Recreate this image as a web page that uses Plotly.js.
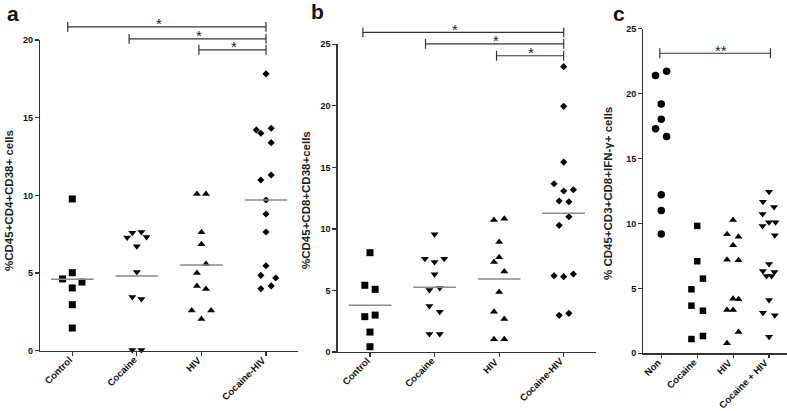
<!DOCTYPE html>
<html><head><meta charset="utf-8">
<script src="https://cdn.plot.ly/plotly-3.0.1.min.js"></script>
<style>html,body{margin:0;padding:0;background:#fff}#chart{width:787px;height:411px}</style>
</head><body><div id="chart"></div>
<script>
// ---------- categories ----------
const catsAB = ['Control', 'Cocaine', 'HIV', 'Cocaine-HIV'];
const catsC = ['Non', 'Cocaine', 'HIV', 'Cocaine + HIV'];

// ---------- panel a : %CD45+CD4+CD38+ cells ----------
const aControl = [9.77, 4.62, 5.02, 4.42, 4.04, 2.96, 1.46];
const aControlDx = [0, -0.15, 0, 0.15, 0, 0, 0];
const aCocaine = [7.28, 7.6, 7.64, 7.32, 6.72, 5.07, 3.46, 3.33, 0.05, 0.05];
const aCocaineDx = [-0.15, -0.07, 0.07, 0.15, 0, 0, -0.07, 0.07, -0.07, 0.07];
const aHIV = [10.09, 10.09, 7.62, 6.85, 5.58, 5.0, 4.17, 3.97, 2.58, 2.58, 2.04];
const aHIVDx = [-0.07, 0.07, 0, 0, 0.07, -0.07, -0.07, 0.07, -0.15, 0.15, 0];
const aCocHIV = [17.82, 14.21, 14.0, 14.32, 13.39, 11.31, 10.99, 9.7, 8.8, 7.64, 5.47, 4.85, 4.68, 4.17, 3.99];
const aCocHIVDx = [0, -0.15, -0.08, 0.08, 0.08, 0.08, -0.08, 0, 0, 0, 0, -0.08, 0.15, 0.08, -0.08];
const aMeans = [4.6, 4.81, 5.52, 9.7];
const aBrFrom = [-0.07, 0.88, 1.96];
const aBrTo = [3, 3, 3];
const aBrY = [20.84, 20.07, 19.36];
const aBrLabelX = [1.34, 1.96, 2.51];
const aBrLabel = ['*', '*', '*'];

// ---------- panel b : %CD45+CD8+CD38+cells ----------
const bControl = [8.07, 5.42, 5.09, 2.87, 3.0, 1.62, 0.43];
const bControlDx = [0, -0.08, 0.08, -0.08, 0.08, 0, 0];
const bCocaine = [9.56, 7.58, 7.31, 7.58, 6.31, 5.04, 5.2, 3.74, 3.28, 1.46, 1.46];
const bCocaineDx = [0, -0.15, 0, 0.15, 0, -0.08, 0.08, -0.08, 0.08, -0.08, 0.08];
const bHIV = [10.72, 10.83, 8.94, 7.69, 7.31, 6.55, 4.87, 3.28, 2.68, 1.03, 1.03];
const bHIVDx = [-0.08, 0.08, 0, 0, -0.08, 0.08, 0, -0.08, 0.08, -0.08, 0.08];
const bCocHIV = [23.18, 19.96, 15.43, 13.67, 13.08, 13.18, 12.27, 12.21, 10.99, 10.29, 6.2, 6.12, 6.34, 2.98, 3.14];
const bCocHIVDx = [0, 0, 0, -0.15, 0, 0.15, -0.07, 0.08, 0.08, -0.07, -0.15, 0, 0.15, -0.07, 0.08];
const bMeans = [3.79, 5.26, 5.93, 11.27];
const bBrFrom = [-0.11, 0.86, 1.96];
const bBrTo = [3, 3, 3];
const bBrY = [25.97, 25.04, 24.07];
const bBrLabelX = [1.32, 1.95, 2.5];
const bBrLabel = ['*', '*', '*'];

// ---------- panel c : % CD45+CD3+CD8+IFN-γ+ cells ----------
const cNon = [21.39, 21.72, 19.2, 18.03, 17.3, 16.69, 12.22, 10.99, 9.19];
const cNonDx = [-0.16, 0.15, 0, 0, -0.16, 0.15, 0, 0, 0];
const cCocaine = [9.81, 7.09, 5.75, 4.93, 3.67, 3.28, 1.1, 1.33];
const cCocaineDx = [0, 0, 0.16, -0.16, -0.16, 0.16, -0.16, 0.16];
const cHIV = [10.27, 9.17, 8.98, 8.32, 7.21, 7.16, 4.21, 4.16, 3.34, 3.34, 1.64, 0.77];
const cHIVDx = [0, -0.17, 0.15, 0, -0.17, 0.15, 0, 0.15, -0.17, 0, 0.15, -0.17];
const cCocHIV = [12.45, 11.68, 11.27, 10.73, 10.09, 10.09, 9.81, 9.09, 6.88, 6.34, 6.26, 5.96, 5.96, 4.11, 3.13, 2.93, 1.28];
const cCocHIVDx = [0, -0.17, 0.14, -0.18, 0, 0.18, -0.18, 0.16, 0, -0.17, 0.15, -0.07, 0.07, 0, -0.17, 0.16, 0];
const cBrFrom = [-0.04];
const cBrTo = [3.04];
const cBrY = [23.11];
const cBrLabelX = [1.66];
const cBrLabel = ['**'];

// ---------- ticks / titles ----------
const yTicksA = [0, 5, 10, 15, 20];
const yTicksBC = [0, 5, 10, 15, 20, 25];
const yTitles = ['%CD45+CD4+CD38+ cells', '%CD45+CD8+CD38+cells', '% CD45+CD3+CD8+IFN-γ+ cells'];
const panelLetters = ['a', 'b', 'c'];

// ---------- build ----------
const FONT = 'Liberation Sans, Arial, sans-serif';
const W = 787, H = 411;
const panels = [
  {x: 'x', y: 'y', bx: 'x4', by: 'y4', xdom: [40, 298.3], ydom: [350.7, 40], ymax: 20, ticks: yTicksA, cats: catsAB,
   groups: [[aControl, aControlDx, 'square', 7], [aCocaine, aCocaineDx, 'triangle-down', 7], [aHIV, aHIVDx, 'triangle-up', 7], [aCocHIV, aCocHIVDx, 'diamond', 5.5]],
   means: aMeans, br: [aBrFrom, aBrTo, aBrY, aBrLabelX, aBrLabel]},
  {x: 'x2', y: 'y2', bx: 'x5', by: 'y5', xdom: [337.7, 596], ydom: [352, 44.3], ymax: 25, ticks: yTicksBC, cats: catsAB,
   groups: [[bControl, bControlDx, 'square', 7], [bCocaine, bCocaineDx, 'triangle-down', 7], [bHIV, bHIVDx, 'triangle-up', 7], [bCocHIV, bCocHIVDx, 'diamond', 5.5]],
   means: bMeans, br: [bBrFrom, bBrTo, bBrY, bBrLabelX, bBrLabel]},
  {x: 'x3', y: 'y3', bx: 'x6', by: 'y6', xdom: [643.3, 787], ydom: [353.3, 28.7], ymax: 25, ticks: yTicksBC, cats: catsC,
   groups: [[cNon, cNonDx, 'circle', 7.5], [cCocaine, cCocaineDx, 'square', 6.5], [cHIV, cHIVDx, 'triangle-up', 7], [cCocHIV, cCocHIVDx, 'triangle-down', 7]],
   means: null, br: [cBrFrom, cBrTo, cBrY, cBrLabelX, cBrLabel]}
];

const traces = [];
const layout = {
  width: W, height: H, margin: {l: 0, r: 0, t: 0, b: 0},
  paper_bgcolor: '#fff', plot_bgcolor: 'rgba(0,0,0,0)',
  showlegend: false, hovermode: false, font: {family: FONT, color: '#222'},
  annotations: []
};

panels.forEach((p, pi) => {
  const xd = [p.xdom[0] / W, Math.min(1, p.xdom[1] / W)];
  const yd = [(H - p.ydom[0]) / H, (H - p.ydom[1]) / H];
  const axKey = s => s === 'x' ? 'xaxis' : s === 'y' ? 'yaxis' : (s[0] + 'axis' + s.slice(1));
  layout[axKey(p.x)] = {
    domain: xd, anchor: p.y, range: [-0.5, 3.5], tickmode: 'array', tickvals: [0, 1, 2, 3],
    showticklabels: false, ticks: 'outside', ticklen: 3.5, tickwidth: 1.2, tickcolor: '#333',
    showline: true, linecolor: '#333', linewidth: 1.3, showgrid: false, zeroline: false
  };
  layout[axKey(p.y)] = {
    domain: yd, anchor: p.x, range: [0, p.ymax], tickmode: 'array', tickvals: p.ticks,
    ticks: 'outside', ticklen: 4, tickwidth: 1.2, tickcolor: '#333',
    showline: true, linecolor: '#333', linewidth: 1.3, showgrid: false, zeroline: false,
    tickfont: {family: FONT, size: 9, weight: 'bold', color: '#111'}
  };
  // rotated category labels, top-right corner at the tick
  p.cats.forEach((c, ci) => {
    layout.annotations.push({
      xref: p.x, yref: 'paper', x: ci, y: (H - p.ydom[0] - 2) / H, xshift: 3,
      text: c, textangle: -45, showarrow: false, xanchor: 'right', yanchor: 'top',
      borderpad: 0, font: {family: FONT, size: 9.6, weight: 'bold', color: '#111'}
    });
  });
  // bracket overlay subplot: same scale, extends to top of page
  const top = p.ymax * (1 - yd[0]) / (yd[1] - yd[0]);
  layout[axKey(p.bx)] = {domain: xd, anchor: p.by, range: [-0.5, 3.5], visible: false, fixedrange: true};
  layout[axKey(p.by)] = {domain: [yd[0], 1], anchor: p.bx, range: [0, top], visible: false, fixedrange: true};

  p.groups.forEach((g, gi) => {
    const [vals, dx, sym, size] = g;
    traces.push({
      type: 'scatter', mode: 'markers', xaxis: p.x, yaxis: p.y,
      x: vals.map((v, i) => gi + dx[i]), y: vals, cliponaxis: false,
      marker: {symbol: sym, size: size, color: '#000'}
    });
  });
  if (p.means) {
    p.means.forEach((m, gi) => {
      traces.push({
        type: 'scatter', mode: 'lines', xaxis: p.x, yaxis: p.y,
        x: [gi - 0.33, gi + 0.33], y: [m, m], line: {color: '#8a8a8a', width: 1.5}
      });
    });
  }
  const [bf, bt, by, blx, bl] = p.br;
  bf.forEach((f, i) => {
    traces.push({
      type: 'scatter', mode: 'lines+markers', xaxis: p.bx, yaxis: p.by,
      x: [f, bt[i]], y: [by[i], by[i]], line: {color: '#333', width: 1.2},
      marker: {symbol: 'line-ns', size: 7, line: {color: '#333', width: 1.2}}
    });
    layout.annotations.push({
      xref: p.bx, yref: p.by, x: blx[i], y: by[i], text: bl[i], showarrow: false,
      yanchor: 'middle', xanchor: 'center', yshift: 3,
      font: {family: FONT, size: 15, color: '#222'}
    });
  });
});

// y titles
const yTitlePos = [[9, 201], [306, 200], [608, 194]];
yTitles.forEach((t, i) => {
  layout.annotations.push({
    xref: 'paper', yref: 'paper', x: yTitlePos[i][0] / W, y: (H - yTitlePos[i][1]) / H,
    text: t, textangle: -90, showarrow: false, xanchor: 'center', yanchor: 'middle',
    font: {family: FONT, size: 11.5, weight: 'bold', color: '#222'}
  });
});
// panel letters
const letterPos = [[13, 14], [317, 12], [619, 14]];
panelLetters.forEach((t, i) => {
  layout.annotations.push({
    xref: 'paper', yref: 'paper', x: letterPos[i][0] / W, y: (H - letterPos[i][1]) / H,
    text: t, showarrow: false, xanchor: 'center', yanchor: 'middle',
    font: {family: FONT, size: 21, weight: 'bold', color: '#111'}
  });
});

Plotly.newPlot('chart', traces, layout, {staticPlot: true, displayModeBar: false});
</script>
</body></html>
